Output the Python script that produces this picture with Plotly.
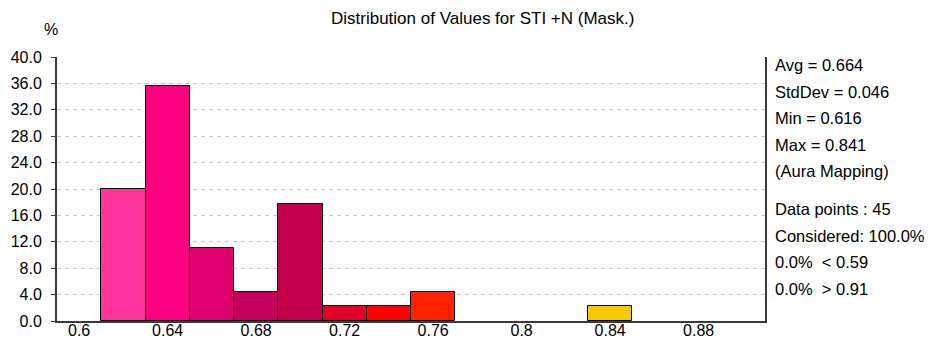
import plotly.graph_objects as go

# Histogram bins (width 0.02) and share of data points in each, in percent
bin_centers = [0.62, 0.64, 0.66, 0.68, 0.70, 0.72, 0.74, 0.76, 0.84]
percents = [20.0, 35.6, 11.1, 4.4, 17.8, 2.2, 2.2, 4.4, 2.2]
bar_colors = ["#FF3399", "#FF0080", "#E0006E", "#C4005C", "#C4004C",
              "#E00028", "#FF0000", "#FF2200", "#F8C800"]
bin_width = 0.02

x_ticks = [0.6, 0.64, 0.68, 0.72, 0.76, 0.8, 0.84, 0.88]
x_tick_labels = ["0.6", "0.64", "0.68", "0.72", "0.76", "0.8", "0.84", "0.88"]
y_ticks = [0, 4, 8, 12, 16, 20, 24, 28, 32, 36, 40]

stats_lines = ["Avg = 0.664", "StdDev = 0.046", "Min = 0.616", "Max = 0.841",
               "(Aura Mapping)"]
count_lines = ["Data points : 45", "Considered: 100.0%", "0.0%  < 0.59",
               "0.0%  > 0.91"]

FONT = "Liberation Sans, Arial, sans-serif"
W, H = 931, 340
L, R, T, B = 57, 166, 57, 19
plot_w = W - L - R
plot_h = H - T - B


def px_x(px):
    """Pixel column -> paper x."""
    return (px - L) / plot_w


def px_y(py):
    """Pixel row -> paper y."""
    return (H - B - py) / plot_h


fig = go.Figure()
fig.add_trace(go.Bar(
    x=bin_centers, y=percents, width=[bin_width] * len(bin_centers),
    marker=dict(color=bar_colors, line=dict(color="#000000", width=1)),
    hoverinfo="x+y",
))

annotations = []
for i, s in enumerate(stats_lines):
    annotations.append(dict(text=s, x=px_x(773), y=px_y(65 + i * 26.6)))
for i, s in enumerate(count_lines):
    annotations.append(dict(text=s, x=px_x(773), y=px_y(209 + i * 26.5)))
for a in annotations:
    a.update(xref="paper", yref="paper", showarrow=False,
             xanchor="left", yanchor="middle", font=dict(size=16.5))

annotations.append(dict(text="%", x=px_x(51), y=px_y(29), xref="paper",
                        yref="paper", showarrow=False,
                        xanchor="center", yanchor="middle"))
annotations.append(dict(text="Distribution of Values for STI +N (Mask.)",
                        x=px_x(482), y=px_y(19), xref="paper", yref="paper",
                        showarrow=False, xanchor="center", yanchor="middle",
                        font=dict(size=17)))

fig.update_layout(
    width=W, height=H,
    margin=dict(l=L, r=R, t=T, b=B, autoexpand=False),
    paper_bgcolor="white", plot_bgcolor="white",
    font=dict(family=FONT, size=16, color="#000000"),
    showlegend=False,
    bargap=0,
    annotations=annotations,
    xaxis=dict(
        range=[0.59, 0.91], tickvals=x_ticks, ticktext=x_tick_labels,
        showgrid=False, zeroline=False, showline=True,
        linecolor="#3a3a3a", linewidth=2, ticks="", automargin=False,
        ticklabelstandoff=-6,
    ),
    yaxis=dict(
        range=[0, 40], tickvals=y_ticks, tickformat=".1f",
        showgrid=True, gridcolor="#c8c8c8", gridwidth=1, griddash="4px,4px",
        zeroline=False, showline=True, mirror=True,
        linecolor="#3a3a3a", linewidth=2,
        ticks="outside", ticklen=4, tickcolor="#3a3a3a",
        automargin=False, ticklabelstandoff=6,
    ),
)

fig.write_html("out.html")
